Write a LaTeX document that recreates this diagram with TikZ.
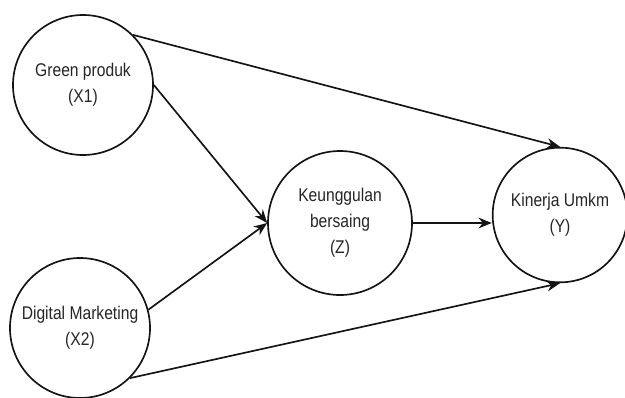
\documentclass[tikz,border=0pt]{standalone}
\usepackage{fontspec}
\setmainfont{Liberation Sans}[FakeStretch=0.85]
\usepackage{xcolor}
\usepackage{tikz}
\usetikzlibrary{arrows.meta}
\definecolor{ink}{HTML}{141414}
\definecolor{txt}{HTML}{262626}
\tikzset{
  var/.style={circle, draw=ink, line width=1.25pt, fill=white, align=center,
    text=txt, font=\fontsize{13.8pt}{19.5pt}\selectfont, inner sep=0pt},
  path/.style={draw=ink, line width=1.25pt, -{Stealth[length=10pt,width=8pt]}}
}

\begin{document}
\begin{tikzpicture}[x=0.75pt, y=-0.75pt]
  \useasboundingbox (0,0) rectangle (625,397);

  % variables
  \node[var, minimum size=105pt] (X1) at (83,85) {Green produk\\(X1)};
  \node[var, minimum size=105pt] (X2) at (80,328) {Digital Marketing\\(X2)};
  \node[var, minimum size=108pt] (Z) at (340,223) {Keunggulan\\bersaing\\(Z)};
  \node[var, minimum size=101pt] (Y) at (560,215) {Kinerja Umkm\\(Y)};

  % paths
  \draw[path] (X1.45) -- (Y.north);
  \draw[path] (X1.east) -- (Z.west);
  \draw[path] (X2.15) -- (Z.west);
  \draw[path] (Z.east) -- (Z.east -| Y.west);
  \draw[path] (X2.-45) -- (Y.south);
\end{tikzpicture}
\end{document}
